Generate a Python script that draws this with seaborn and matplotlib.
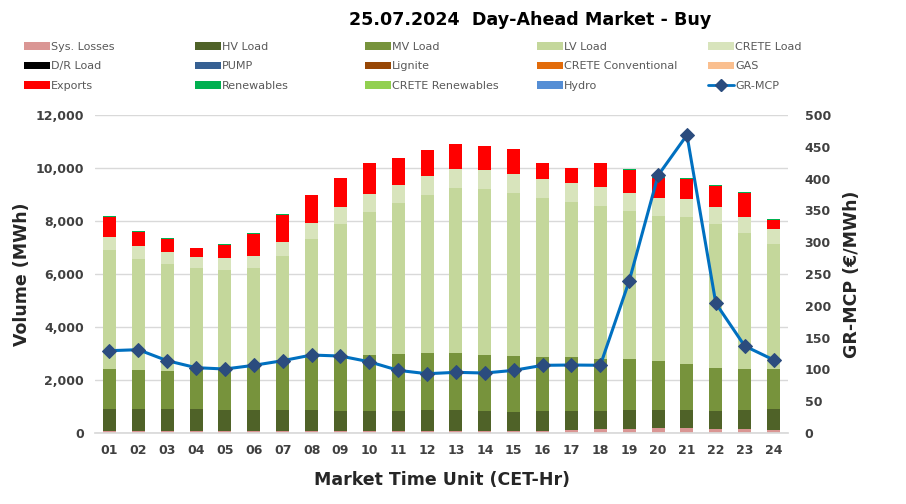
import matplotlib
matplotlib.use("Agg")
import matplotlib.pyplot as plt
import matplotlib.ticker as mticker
from matplotlib.patches import Patch
from matplotlib.lines import Line2D
import numpy as np
import pandas as pd
import seaborn as sns

# Data (MWh per hour, stacked bottom -> top)
hours = [f"{h:02d}" for h in range(1, 25)]
sys_losses = [80, 70, 70, 65, 60, 65, 80, 90, 80, 75, 75, 75, 75, 70, 70, 85,
              115, 140, 165, 175, 175, 165, 165, 115]
hv_load = [830, 835, 835, 830, 820, 790, 790, 780, 750, 755, 755, 805, 795, 750,
           725, 745, 730, 705, 715, 705, 695, 680, 705, 805]
mv_load = [1510, 1470, 1445, 1480, 1520, 1625, 1885, 2065, 2075, 2115, 2150, 2150,
           2165, 2125, 2125, 2050, 2025, 1960, 1900, 1825, 1735, 1610, 1535, 1485]
lv_load = [4490, 4190, 4025, 3835, 3750, 3735, 3925, 4400, 4980, 5410, 5700, 5960,
           6200, 6250, 6150, 5985, 5860, 5775, 5610, 5495, 5535, 5445, 5145, 4730]
crete_load = [500, 490, 465, 440, 465, 465, 515, 590, 655, 670, 680, 695, 730, 720,
              720, 705, 715, 715, 680, 680, 680, 615, 605, 555]
dr_load = [0] * 24
pump = [0] * 24
lignite = [0] * 24
crete_conv = [0] * 24
gas = [0] * 24
exports = [755, 530, 480, 315, 465, 830, 1030, 1045, 1080, 1170, 1020, 995, 945, 905,
           930, 630, 555, 880, 855, 755, 770, 820, 920, 350]
renewables = [35, 35, 35, 35, 35, 35, 35, 0, 0, 0, 0, 0, 0, 0, 0, 0, 0, 0,
              35, 30, 35, 35, 35, 35]
crete_ren = [0] * 24
hydro = [0] * 24
gr_mcp = [129.4, 131.0, 113.7, 102.7, 100.6, 106.4, 113.7, 122.6, 121.0, 112.0, 98.5,
          93.2, 95.4, 94.3, 98.5, 106.4, 106.9, 106.5, 239.0, 405.0, 468.5, 204.0,
          136.8, 115.0]

series = {
    "Sys. Losses": (sys_losses, "#DA9694"),
    "HV Load": (hv_load, "#4F6228"),
    "MV Load": (mv_load, "#77933C"),
    "LV Load": (lv_load, "#C4D79B"),
    "CRETE Load": (crete_load, "#D8E4BC"),
    "D/R Load": (dr_load, "#000000"),
    "PUMP": (pump, "#366092"),
    "Lignite": (lignite, "#974706"),
    "CRETE Conventional": (crete_conv, "#E26B0A"),
    "GAS": (gas, "#FABF8F"),
    "Exports": (exports, "#FF0000"),
    "Renewables": (renewables, "#00B050"),
    "CRETE Renewables": (crete_ren, "#92D050"),
    "Hydro": (hydro, "#558ED5"),
}

df = pd.DataFrame({name: vals for name, (vals, _) in series.items()}, index=hours)
df["GR-MCP"] = gr_mcp

sns.set_theme(style="white")
plt.rcParams["font.family"] = ["DejaVu Sans"]

fig = plt.figure(figsize=(9.06, 5.04), dpi=100)
ax = fig.add_axes([95 / 906, 71 / 504, 693 / 906, 318 / 504])

x = np.arange(len(hours))
bottom = np.zeros(len(hours))
for name, (vals, color) in series.items():
    ax.bar(x, df[name], bottom=bottom, width=0.45, color=color, edgecolor="none", zorder=2)
    bottom += df[name].values

ax.set_xlim(-0.5, 23.5)
ax.set_ylim(0, 12000)
ax.set_yticks(range(0, 12001, 2000))
ax.yaxis.set_major_formatter(mticker.StrMethodFormatter("{x:,.0f}"))
ax.set_xticks(x)
ax.set_xticklabels(hours)
ax.grid(axis="y", color="#D9D9D9", linewidth=1, zorder=0)
ax.set_axisbelow(True)
for s in ["top", "left", "right"]:
    ax.spines[s].set_visible(False)
ax.spines["bottom"].set_color("#D9D9D9")
ax.tick_params(axis="both", length=0, labelsize=9, labelcolor="#404040", pad=8)
for lbl in ax.get_xticklabels() + ax.get_yticklabels():
    lbl.set_fontweight("bold")
ax.set_xlabel("Market Time Unit (CET-Hr)", fontsize=12.5, fontweight="bold", labelpad=10)
ax.set_ylabel("Volume (MWh)", fontsize=12.5, fontweight="bold", labelpad=3)

ax2 = ax.twinx()
sns.lineplot(x=x, y=df["GR-MCP"], ax=ax2, color="#0070C0", linewidth=2.2,
             marker="D", markersize=7.5, markerfacecolor="#2B4C7E",
             markeredgecolor="#2B4C7E", zorder=5)
ax2.set_ylim(0, 500)
ax2.set_yticks(range(0, 501, 50))
ax2.set_xlim(-0.5, 23.5)
for s in ["top", "left", "right", "bottom"]:
    ax2.spines[s].set_visible(False)
ax2.tick_params(axis="y", length=0, labelsize=9, labelcolor="#404040", pad=12)
for lbl in ax2.get_yticklabels():
    lbl.set_fontweight("bold")
ax2.set_ylabel("GR-MCP (€/MWh)", fontsize=12.5, fontweight="bold", labelpad=9)

fig.suptitle("25.07.2024  Day-Ahead Market - Buy", x=530 / 906, y=0.978,
             fontsize=12.6, fontweight="bold", color="black")

# legend: five columns placed separately so they line up like the original
names = list(series.keys()) + ["GR-MCP"]
handles = [Patch(facecolor=c, edgecolor="none") for _, c in series.values()]
handles.append(Line2D([0], [0], color="#0070C0", linewidth=2, marker="D",
                      markersize=6, markerfacecolor="#2B4C7E", markeredgecolor="#2B4C7E"))
col_x = [24, 195, 365, 537, 708]
for c in range(5):
    idx = [c, c + 5, c + 10]
    fig.legend([handles[i] for i in idx], [names[i] for i in idx],
               loc="upper left", bbox_to_anchor=(col_x[c] / 906, 1 - 42 / 504),
               frameon=False, fontsize=8, labelcolor="#595959",
               handlelength=2.3, handleheight=0.7, handletextpad=0.15,
               labelspacing=0.85, borderpad=0, borderaxespad=0)

fig.savefig("out.png", dpi=100)
